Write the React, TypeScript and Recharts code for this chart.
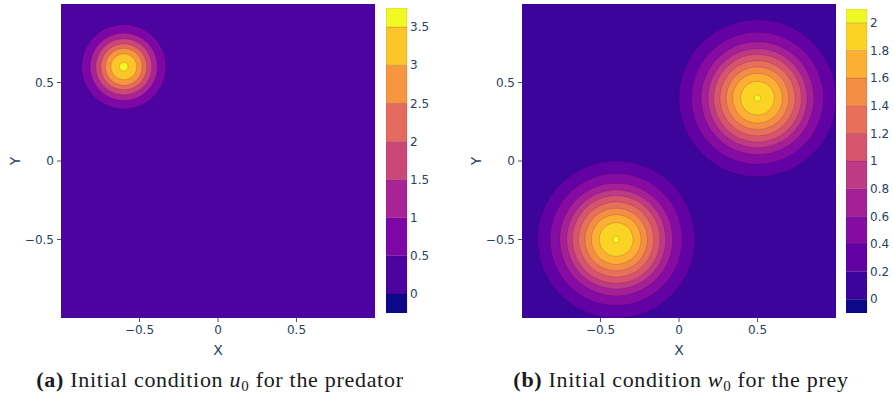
import React from 'react';
import {
  ScatterChart,
  Scatter,
  BarChart,
  Bar,
  XAxis,
  YAxis,
  CartesianGrid,
  Label,
} from 'recharts';

const FONT = '"DejaVu Sans", Verdana, sans-serif';
const INK = '#2a3f5f';

const AXIS_TICKS = [-0.5, 0, 0.5];

// (a) predator u0: one bump, contour level -> radius
const U_PEAKS = [{ x: -0.6, y: 0.6 }];
const U_LEVELS = [0.5, 1, 1.5, 2, 2.5, 3, 3.5];
const U_RADII = [0.268, 0.214, 0.178, 0.146, 0.117, 0.082, 0.027];
const U_EDGES = [-0.25, 0, 0.5, 1, 1.5, 2, 2.5, 3, 3.5, 3.75];
const U_COLORS = ['#0d0887', '#4c03a0', '#7d07a6', '#a82395', '#cb4778', '#e56c5c', '#f89640', '#fdc529', '#f0f921'];
const U_TICKS = [0, 0.5, 1, 1.5, 2, 2.5, 3, 3.5];

// (b) prey w0: two bumps
const W_PEAKS = [{ x: 0.5, y: 0.4 }, { x: -0.4, y: -0.5 }];
const W_LEVELS = [0.2, 0.4, 0.6, 0.8, 1, 1.2, 1.4, 1.6, 1.8, 2];
const W_RADII = [0.5, 0.42, 0.359, 0.315, 0.279, 0.239, 0.199, 0.158, 0.107, 0.02];
const W_EDGES = [-0.1, 0, 0.2, 0.4, 0.6, 0.8, 1, 1.2, 1.4, 1.6, 1.8, 2, 2.1];
const W_COLORS = ['#0d0887', '#3c049b', '#6202a5', '#850ba3', '#a52097', '#bf3a84', '#d6546e', '#e7705a', '#f58e45', '#fcaf33', '#fbd325', '#f0f921'];
const W_TICKS = [0, 0.2, 0.4, 0.6, 0.8, 1, 1.2, 1.4, 1.6, 1.8, 2];

const SEGMENTS = 120;

type Pt = { x: number; y: number };

const ringPoints = (c: Pt, r: number): Pt[] =>
  Array.from({ length: SEGMENTS + 1 }, (_, i) => {
    const t = (2 * Math.PI * i) / SEGMENTS;
    return { x: c.x + r * Math.cos(t), y: c.y + r * Math.sin(t) };
  });

const fmt = (v: number) => (v < 0 ? `\u2212${Math.abs(v)}` : `${v}`);

const noDot = () => <g />;

const filledRing = (fill: string) => (props: any) => {
  const pts: { x: number; y: number }[] = props.points || [];
  if (!pts.length) return <g />;
  const d = pts.map((p, i) => `${i ? 'L' : 'M'}${p.x},${p.y}`).join('') + 'Z';
  return <path d={d} fill={fill} stroke="rgba(30,0,50,0.22)" strokeWidth={0.7} />;
};

const tickStyle = { fill: INK, fontSize: 12, fontFamily: FONT };

interface ContourProps {
  peaks: Pt[];
  levels: number[];
  radii: number[];
  edges: number[];
  colors: string[];
}

const ContourPlot: React.FC<ContourProps> = ({ peaks, levels, radii, edges, colors }) => {
  const bandColor = (v: number) => colors[edges.indexOf(v)];
  return (
    <ScatterChart width={390} height={365} margin={{ top: 4, right: 15, bottom: 0, left: 0 }}>
      <CartesianGrid horizontal={false} vertical={false} fill={bandColor(0)} fillOpacity={1} />
      <XAxis
        type="number"
        dataKey="x"
        domain={[-1, 1]}
        ticks={AXIS_TICKS}
        interval={0}
        allowDataOverflow
        axisLine={false}
        tickSize={4}
        tickMargin={3}
        tickLine={{ stroke: '#555' }}
        tick={tickStyle}
        tickFormatter={fmt}
        height={47}
      >
        <Label
          content={({ viewBox }: any) => (
            <text x={viewBox.x + viewBox.width / 2} y={viewBox.y + 37} textAnchor="middle" fill={INK} fontSize={14} fontFamily={FONT}>
              X
            </text>
          )}
        />
      </XAxis>
      <YAxis
        type="number"
        dataKey="y"
        domain={[-1, 1]}
        ticks={AXIS_TICKS}
        interval={0}
        allowDataOverflow
        axisLine={false}
        tickSize={4}
        tickMargin={3}
        tickLine={{ stroke: '#555' }}
        tick={tickStyle}
        tickFormatter={fmt}
        width={61}
      >
        <Label
          content={({ viewBox }: any) => {
            const cx = viewBox.x + 15;
            const cy = viewBox.y + viewBox.height / 2;
            return (
              <text x={cx} y={cy} transform={`rotate(-90 ${cx} ${cy})`} textAnchor="middle" dominantBaseline="central" fill={INK} fontSize={14} fontFamily={FONT}>
                Y
              </text>
            );
          }}
        />
      </YAxis>
      {levels.map((lv, li) =>
        peaks.map((p, pi) => (
          <Scatter
            key={`${lv}-${pi}`}
            data={ringPoints(p, radii[li])}
            isAnimationActive={false}
            shape={noDot}
            line={filledRing(bandColor(lv))}
          />
        ))
      )}
    </ScatterChart>
  );
};

interface BarProps {
  edges: number[];
  colors: string[];
  ticks: number[];
  height: number;
}

// colour bar: one stacked column, the band below zero stacks downwards
const ColorBar: React.FC<BarProps> = ({ edges, colors, ticks, height }) => {
  const row: Record<string, number | string> = { name: 'bar' };
  colors.forEach((_, i) => {
    row[`b${i}`] = edges[i] < 0 ? edges[i] : edges[i + 1] - edges[i];
  });
  return (
    <BarChart
      width={60}
      height={height}
      data={[row]}
      stackOffset="sign"
      barCategoryGap={0}
      margin={{ top: 0, right: 0, bottom: 0, left: 0 }}
    >
      <XAxis dataKey="name" hide />
      <YAxis
        type="number"
        orientation="right"
        domain={[edges[0], edges[edges.length - 1]]}
        allowDataOverflow
        ticks={ticks}
        interval={0}
        width={39}
        axisLine={false}
        tickLine={false}
        tickSize={0}
        tickMargin={3}
        tick={tickStyle}
      />
      {colors.map((c, i) => (
        <Bar
          key={i}
          dataKey={`b${i}`}
          stackId="cb"
          fill={c}
          stroke="rgba(30,0,50,0.2)"
          strokeWidth={0.6}
          isAnimationActive={false}
        />
      ))}
    </BarChart>
  );
};

const captionStyle: React.CSSProperties = {
  position: 'absolute',
  top: 366,
  width: 440,
  textAlign: 'center',
  fontFamily: '"Liberation Serif", "Times New Roman", serif',
  fontSize: 22,
  letterSpacing: 0.7,
  color: '#1a1a1a',
  lineHeight: '28px',
  whiteSpace: 'nowrap',
};

const sub: React.CSSProperties = { fontSize: 15, position: 'relative', top: 4 };

export default function App() {
  return (
    <div style={{ position: 'absolute', left: 0, top: 0, width: 894, height: 396, background: '#fff', overflow: 'hidden' }}>
      <div style={{ position: 'absolute', left: 0, top: 0 }}>
        <ContourPlot peaks={U_PEAKS} levels={U_LEVELS} radii={U_RADII} edges={U_EDGES} colors={U_COLORS} />
      </div>
      <div style={{ position: 'absolute', left: 386, top: 8 }}>
        <ColorBar edges={U_EDGES} colors={U_COLORS} ticks={U_TICKS} height={305} />
      </div>
      <div style={{ ...captionStyle, left: 0 }}>
        <b>(a)</b> Initial condition <i>u</i><span style={sub}>0</span> for the predator
      </div>

      <div style={{ position: 'absolute', left: 461, top: 0 }}>
        <ContourPlot peaks={W_PEAKS} levels={W_LEVELS} radii={W_RADII} edges={W_EDGES} colors={W_COLORS} />
      </div>
      <div style={{ position: 'absolute', left: 846, top: 9 }}>
        <ColorBar edges={W_EDGES} colors={W_COLORS} ticks={W_TICKS} height={304} />
      </div>
      <div style={{ ...captionStyle, left: 461 }}>
        <b>(b)</b> Initial condition <i>w</i><span style={sub}>0</span> for the prey
      </div>
    </div>
  );
}
